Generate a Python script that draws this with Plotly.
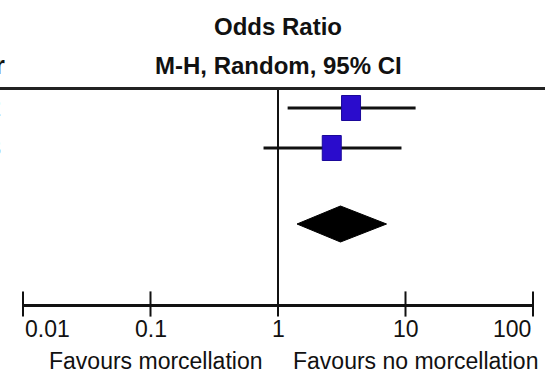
import math
import plotly.graph_objects as go

# ---------------- data ----------------
study_years = ["2012", "2013"]
study_or = [3.74, 2.64]
study_lo = [1.19, 0.77]
study_hi = [12.0, 9.3]

total_or = 3.09
total_lo = 1.41
total_hi = 7.10

tick_values = [0.01, 0.1, 1, 10, 100]
tick_labels = ["0.01", "0.1", "1", "10", "100"]

title_lines = ["Odds Ratio", "M-H, Random, 95% CI"]
favours_left = "Favours morcellation"
favours_right = "Favours no morcellation"
left_header = "Year"

# ---------------- layout constants (pixel-like y units) ----------------
W, H = 545, 374
AXIS_Y = 304
HEADER_LINE_Y = 88.5
ROW_Y = [108, 148]
TOTAL_Y = 224
DIAMOND_HALF = 18
BOX_HALF_W_DEC = 9.5 / 127.5   # half box width, in decades of the log axis
BOX_HALF_H = 12.5
TICKLABEL_Y = 329
FAVOURS_Y = 361
BOLD = "Liberation Sans, Arial, sans-serif"
REGULAR = "Liberation Sans, Arial, sans-serif"
INK = "#111111"
BOX = "#2a0ccc"


def py(px):
    """pixel row -> paper y (margins are zero)"""
    return 1 - px / H


fig = go.Figure()

# CI whiskers
for yv, lo, hi in zip(ROW_Y, study_lo, study_hi):
    fig.add_trace(go.Scatter(x=[lo, hi], y=[yv, yv], mode="lines",
                             line=dict(color=INK, width=3),
                             hoverinfo="skip", showlegend=False, cliponaxis=False))

# study boxes
for yv, est in zip(ROW_Y, study_or):
    fig.add_shape(type="rect", xref="x", yref="y",
                  x0=est * 10 ** (-BOX_HALF_W_DEC), x1=est * 10 ** BOX_HALF_W_DEC,
                  y0=yv - BOX_HALF_H, y1=yv + BOX_HALF_H,
                  fillcolor=BOX, line=dict(color="#1a0899", width=1))

# pooled diamond
fig.add_trace(go.Scatter(
    x=[total_lo, total_or, total_hi, total_or, total_lo],
    y=[TOTAL_Y, TOTAL_Y - DIAMOND_HALF, TOTAL_Y, TOTAL_Y + DIAMOND_HALF, TOTAL_Y],
    mode="lines", fill="toself", fillcolor="#000000",
    line=dict(color="#000000", width=1), hoverinfo="skip", showlegend=False))

# tick marks crossing the axis line
fig.add_trace(go.Scatter(x=tick_values, y=[AXIS_Y] * len(tick_values), mode="markers",
                         marker=dict(symbol="line-ns", size=18,
                                     line=dict(color=INK, width=2)),
                         hoverinfo="skip", showlegend=False, cliponaxis=False))

# line of no effect
fig.add_shape(type="line", xref="x", yref="y", x0=1, x1=1,
              y0=HEADER_LINE_Y, y1=AXIS_Y, line=dict(color=INK, width=2))
# header rule
fig.add_shape(type="line", xref="paper", yref="y", x0=0, x1=1,
              y0=HEADER_LINE_Y, y1=HEADER_LINE_Y, line=dict(color="#222222", width=3))

# tick labels (annotations on a log axis take log10 positions)
for i, (v, t) in enumerate(zip(tick_values, tick_labels)):
    anchor = "left" if i == 0 else ("right" if i == len(tick_values) - 1 else "center")
    fig.add_annotation(x=math.log10(v), y=py(TICKLABEL_Y), xref="x", yref="paper",
                       text=t, showarrow=False, xanchor=anchor, yanchor="middle",
                       font=dict(family=REGULAR, size=23, color=INK))

# favours labels
fig.add_annotation(x=math.log10(1), y=py(FAVOURS_Y), xref="x", yref="paper",
                   text=favours_left, showarrow=False, xanchor="right",
                   yanchor="middle", xshift=-14,
                   font=dict(family=REGULAR, size=23, color=INK))
fig.add_annotation(x=math.log10(1), y=py(FAVOURS_Y), xref="x", yref="paper",
                   text=favours_right, showarrow=False, xanchor="left",
                   yanchor="middle", xshift=13,
                   font=dict(family=REGULAR, size=23, color=INK))

# column title
for yv, t in zip([26, 65], title_lines):
    fig.add_annotation(x=math.log10(1), y=yv, xref="x", yref="y", text="<b>" + t + "</b>",
                       showarrow=False, xanchor="center", yanchor="middle",
                       font=dict(family=BOLD, size=24, color=INK))

# cut-off left column (only its right edge is visible)
fig.add_annotation(x=7 / W, y=65, xref="paper", yref="y", text="<b>" + left_header + "</b>",
                   showarrow=False, xanchor="right", yanchor="middle",
                   font=dict(family=BOLD, size=26, color=INK))
for yv, t in zip(ROW_Y, study_years):
    fig.add_annotation(x=3 / W, y=yv, xref="paper", yref="y", text=t,
                       showarrow=False, xanchor="right", yanchor="middle",
                       font=dict(family=REGULAR, size=23, color=INK))

fig.update_layout(
    width=W, height=H, margin=dict(l=0, r=0, t=0, b=0),
    paper_bgcolor="white", plot_bgcolor="white", showlegend=False,
    xaxis=dict(type="log", range=[-2, 2], domain=[23 / W, 533 / W],
               showline=True, linecolor=INK, linewidth=3, ticks="",
               showticklabels=False, showgrid=False, zeroline=False, fixedrange=True),
    yaxis=dict(range=[AXIS_Y, 0], domain=[(H - AXIS_Y) / H, 1], visible=False,
               showgrid=False, zeroline=False, fixedrange=True),
)

fig.write_html("out.html")
